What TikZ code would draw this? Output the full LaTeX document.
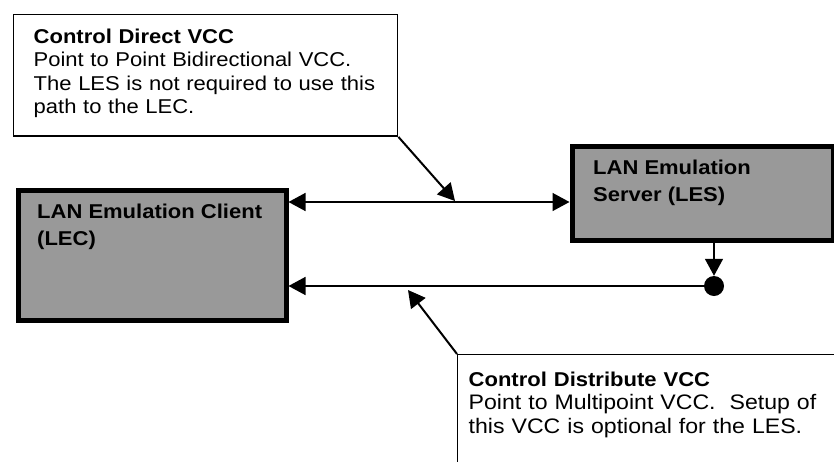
\documentclass[tikz,border=0pt]{standalone}
\usepackage{fontspec}
\setmainfont{Liberation Sans}[FakeStretch=1.1]
\usetikzlibrary{arrows.meta}
\definecolor{halftone}{gray}{0.6}

\begin{document}
\begin{tikzpicture}[x=1pt,y=-1pt,
  >={Triangle[length=17pt,width=18pt]},
  every node/.style={font=\fontsize{20}{23.5}\selectfont},
  callout/.style={draw,line width=1.4pt,anchor=north west,align=left,inner xsep=20pt},
  entity/.style={draw,line width=5pt,fill=halftone,anchor=north west,inner sep=0pt},
  entitylabel/.style={anchor=north west,align=left,inner sep=0pt,font=\fontsize{20}{27}\selectfont\bfseries},
  link/.style={line width=1.5pt},
  leader/.style={line width=2pt}]
  \useasboundingbox (0,0) rectangle (834,461);
  \clip (0,0) rectangle (834,461);
  % the two entities
  \node[entity,minimum width=268pt,minimum height=130pt] (lec) at (15.5,187.5) {};
  \node[entitylabel] (leclabel) at (37,204) {LAN Emulation Client\\(LEC)};
  \node[entity,minimum width=261pt,minimum height=94pt] (les) at (569.5,143.5) {};
  \node[entitylabel] (leslabel) at (593,160) {LAN Emulation\\Server (LES)};
  % VCCs
  \coordinate (upper) at (0,202);
  \draw[link,<->] (lec.east |- upper) -- (les.west |- upper);
  \node[circle,fill,minimum size=20pt,inner sep=0pt] (join) at (714,286) {};
  \draw[link,->] (les.south -| join) -- (join.north);
  \draw[link,->] (join) -- (lec.east |- join);
  % callouts
  \node[callout,inner ysep=14pt,text depth=79pt,text width=344pt] (direct) at (13,14)
    {\textbf{Control Direct VCC}\\Point to Point Bidirectional VCC.\\The LES is not required to use this\\path to the LEC.};
  \node[callout,inner xsep=11pt,inner ysep=17pt,text depth=100pt,text width=420pt,
    font=\fontsize{21}{23.5}\selectfont] (distrib) at (457,354)
    {{\fontsize{20}{23.5}\selectfont\bfseries Control Distribute VCC}\\Point to Multipoint VCC.\ \ Setup of\\this VCC is optional for the LES.};
  \coordinate (hitupper) at (455,201);
  \coordinate (hitlower) at (408,290);
  \draw[leader,->] (direct.south east) -- (hitupper);
  \draw[leader,->] (distrib.north west) -- (hitlower);
  %\draw[red,very thin] (0,43) -- (834,43);
\end{tikzpicture}
\end{document}
